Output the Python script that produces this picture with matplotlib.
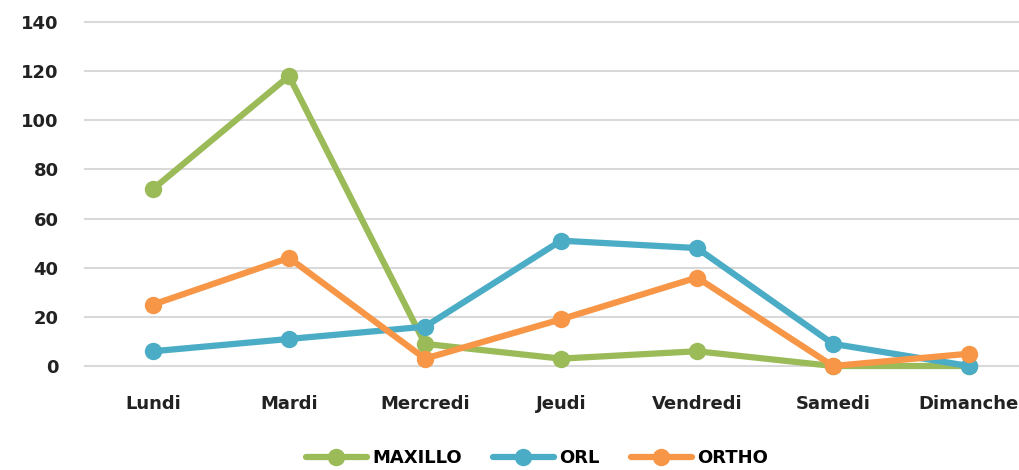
"""Line chart of weekly counts per specialty"""

import matplotlib
matplotlib.use('agg')
import matplotlib.pyplot as plt

days = ["Lundi", "Mardi", "Mercredi", "Jeudi", "Vendredi", "Samedi", "Dimanche"]
maxillo = [72, 118, 9, 3, 6, 0, 0]
orl = [6, 11, 16, 51, 48, 9, 0]
ortho = [25, 44, 3, 19, 36, 0, 5]
y_ticks = [0, 20, 40, 60, 80, 100, 120, 140]

COLORS = {"MAXILLO": "#9BBB59", "ORL": "#4BACC6", "ORTHO": "#F79646"}


def main():
    """Main function"""
    plt.rcParams['font.family'] = ['DejaVu Sans']
    fig = plt.figure(figsize=(10.2, 4.7), dpi=100)
    ax = fig.add_axes([85 / 1020, 104 / 470, (1037 - 85) / 1020, 344 / 470])
    x = list(range(len(days)))
    for name, vals in [("MAXILLO", maxillo), ("ORL", orl), ("ORTHO", ortho)]:
        ax.plot(x, vals, color=COLORS[name], linewidth=4.5, marker='o',
                markersize=11.5, label=name, solid_capstyle='round',
                clip_on=False, zorder=3)
    ax.set_xlim(-0.5, len(days) - 0.5)
    ax.set_ylim(0, 140)
    ax.set_yticks(y_ticks)
    ax.set_xticks(x)
    ax.set_xticklabels(days)
    ax.grid(axis='y', color='#D9D9D9', linewidth=1.5)
    for gl in ax.get_ygridlines():
        gl.set_clip_on(False)
    ax.set_axisbelow(True)
    for s in ax.spines.values():
        s.set_visible(False)
    ax.tick_params(length=0, labelsize=13, colors='#222222')
    ax.tick_params(axis='x', pad=21)
    ax.tick_params(axis='y', pad=19)
    for lab in ax.get_xticklabels() + ax.get_yticklabels():
        lab.set_fontweight('bold')
    fig.legend(loc='center', bbox_to_anchor=(537 / 1020, 12 / 470),
               ncol=3, frameon=False, handlelength=3.4,
               columnspacing=1.7, handletextpad=0.3,
               prop={'size': 13, 'weight': 'bold'})
    fig.savefig("out.png", dpi=100)


if __name__ == "__main__":
    main()
